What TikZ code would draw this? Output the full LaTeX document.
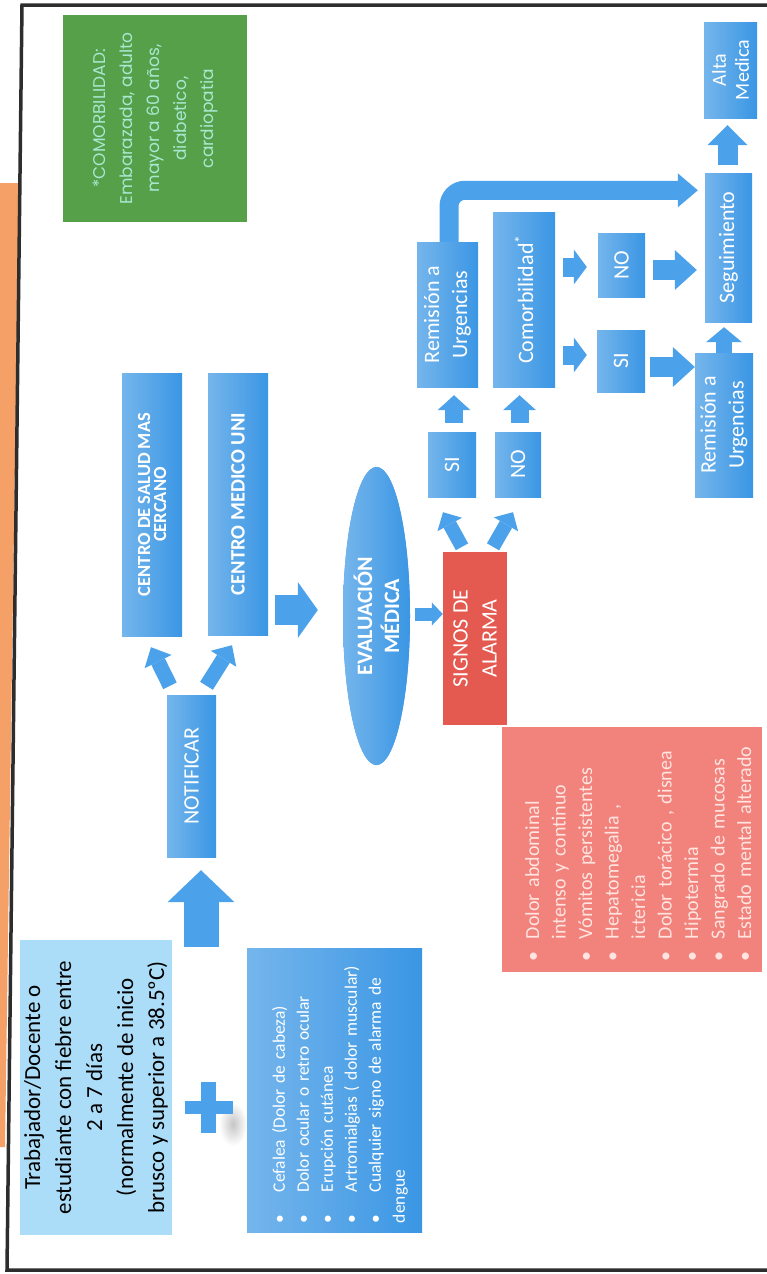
\documentclass[tikz,border=0pt]{standalone}
\usepackage{fontspec}
\setmainfont{Carlito}
\newfontfamily\redonda{Poppins}
\usepackage{tikz}
\usetikzlibrary{calc}
\usetikzlibrary{arrows.meta}
\usetikzlibrary{shapes.geometric}
\definecolor{azul}{RGB}{58,150,228}
\definecolor{flechazul}{RGB}{75,162,235}
\definecolor{celeste}{RGB}{172,221,248}
\definecolor{rojo}{RGB}{228,90,80}
\definecolor{rosa}{RGB}{241,130,124}
\definecolor{rosatexto}{RGB}{255,228,224}
\definecolor{verde}{RGB}{86,160,74}
\definecolor{verdetexto}{RGB}{168,232,208}
\definecolor{naranja}{RGB}{245,160,102}
\definecolor{marcogris}{RGB}{45,45,45}
\tikzset{
    caja/.style={rectangle, fill=azul, text=white, rotate=90, inner sep=0pt, align=center},
    degradado/.style={left color=azul!70!white, right color=azul},
    flecha/.style n args={3}{draw=flechazul, line width=#1, -{Triangle[length=#2, width=#3, line width=0pt]}}
}
\newlength{\sangria}
\newcommand{\punto}[1]{\par\hangindent=\sangria\hangafter=1\noindent\makebox[\sangria][l]{\textbullet}#1}

\begin{document}
\begin{tikzpicture}[x=1pt, y=-1pt]
\useasboundingbox (0,0) rectangle (766,1274);
% marco
\fill[naranja] (0,183) -- (19,183) -- (5,1147) -- (0,1147) -- cycle;
\draw[marcogris, line width=3.5pt] (770,5) -- (22,5) -- (7,1270) -- (770,1270);

% entrada
\node[caja, fill=celeste, text=black, minimum width=295, minimum height=152, font=\fontsize{23}{31}\selectfont] (fiebre) at (96,1087.5) {Trabajador/Docente o\\estudiante con fiebre entre\\2 a 7 días\\(normalmente de inicio\\brusco y superior a 38.5ºC)};
\shade[inner color=gray!45, outer color=white] (233,1124) ellipse (14 and 22);
\fill[flechazul] (185,1101) rectangle (233,1114);
\fill[flechazul] (201,1082) rectangle (216,1133);
\node[caja, degradado, minimum width=284, minimum height=175, text width=266, inner xsep=9, align=left, font=\fontsize{17.5}{24}\selectfont] (sintomas) at (334.5,1090) {\setlength{\sangria}{31pt}%
\punto{Cefalea (Dolor de cabeza)}\punto{Dolor ocular o retro ocular}\punto{Erupción cutánea}\punto{Artromialgias ( dolor muscular)}\punto{Cualquier signo de alarma de\newline dengue}};

% cajas azules
\foreach \nombre/\cx/\cy/\alto/\ancho/\texto in {notif/191.5/776/162/49/NOTIFICAR, remA/447.5/314.5/145/61/{Remisión a\\Urgencias}, comorb/524/299.5/175/62/{Comorbilidad\textsuperscript{*}}, seg/728.5/247.5/149/47/Seguimiento, remB/724/425/144/58/{Remisión a\\Urgencias}, si1/452/464.5/65/48/SI, no1/518/464.5/65/46/NO, no2/621.5/265/64/47/NO, si2/621/361/62/48/SI}{
    \node[caja, degradado, minimum width=\alto, minimum height=\ancho, font=\fontsize{22}{28}\selectfont] (\nombre) at (\cx,\cy) {\texto};
}
\node[caja, degradado, minimum width=263, minimum height=60, font=\bfseries\fontsize{18.5}{16}\selectfont] (csalud) at (152,504.5) {CENTRO DE SALUD MAS\\CERCANO};
\node[caja, degradado, minimum width=262, minimum height=60, font=\bfseries\fontsize{20.5}{24}\selectfont] (cuni) at (238,504) {CENTRO MEDICO UNI};
\node[caja, degradado, minimum width=96, minimum height=53, font=\fontsize{20}{23}\selectfont] (alta) at (730.5,70) {Alta\\Medica};
\node[caja, ellipse, degradado, minimum width=298, minimum height=67, font=\bfseries\fontsize{22}{27}\selectfont] (evaluacion) at (376.5,616) {EVALUACIÓN\\MÉDICA};

% alarma
\node[caja, fill=rojo, minimum width=173, minimum height=64, font=\fontsize{22}{29}\selectfont] (signos) at (475,638.5) {SIGNOS DE\\ALARMA};
\node[caja, fill=rosa, text=rosatexto, minimum width=245, minimum height=260, text width=223, inner xsep=11, align=left, font=\fontsize{20}{26.5}\selectfont] (alarma) at (632,849.5) {\setlength{\sangria}{22pt}%
\punto{Dolor abdominal\newline intenso y continuo}\punto{Vómitos persistentes}\punto{Hepatomegalia ,\newline ictericia}\punto{Dolor torácico , disnea}\punto{Hipotermia}\punto{Sangrado de mucosas}\punto{Estado mental alterado}};

% nota
\node[caja, fill=verde, text=verdetexto, minimum width=207, minimum height=184, font=\redonda\fontsize{17}{27}\selectfont] (nota) at (155,118.5) {*COMORBILIDAD:\\Embarazada, adulto\\mayor a 60 años,\\diabetico,\\cardiopatia};

% flechas
\coordinate (base) at (201,947);
\draw[flecha={35pt}{32pt}{67pt}, shorten >=13pt] (base) -- (base |- notif.west);
\draw[flecha={15pt}{16pt}{30pt}] ($(notif.east)+(-21.5,-9)$) -- ($(csalud.west)+(-1,11)$);
\draw[flecha={15pt}{16pt}{30pt}] ($(notif.east)+(15,-9)$) -- ($(cuni.west)+(-6,10)$);
\draw[flecha={30pt}{20pt}{56pt}] ($(cuni.south |- evaluacion.north)+(7,-6)$) -- ($(evaluacion.north)+(-25,-6)$);
\draw[flecha={13pt}{11pt}{23pt}] ($(evaluacion.south)+(5,-2)$) -- ($(evaluacion.south -| signos.north)+(0,-2)$);
\draw[flecha={14pt}{14pt}{28pt}] ($(signos.east)+(-13,-5)$) -- ($(si1.west)+(-9,15)$);
\draw[flecha={14pt}{14pt}{28pt}] ($(signos.east)+(18,-5)$) -- ($(no1.west)+(-5,15)$);
\draw[flecha={18pt}{15pt}{33pt}] ($(si1.east)+(2,-9)$) -- ($(si1.east |- remA.west)+(2,8)$);
\draw[flecha={18pt}{15pt}{33pt}] ($(no1.east)+(1.5,-9)$) -- ($(no1.east |- comorb.west)+(1.5,8)$);
\draw[flecha={19pt}{20pt}{34pt}, rounded corners=16pt] ($(remA.east)+(1.5,0)$) |- ($(seg.north east)+(-7,17.5)$);
\draw[flecha={19pt}{13pt}{35pt}] ($(comorb.south |- no2.north)+(8,2)$) -- ($(no2.north)+(-11,2)$);
\draw[flecha={19pt}{13pt}{35pt}] ($(comorb.south |- si2.north)+(8,-6)$) -- ($(si2.north)+(-10,-6)$);
\draw[flecha={20pt}{22pt}{40pt}] ($(no2.south)+(8,5)$) -- ($(no2.south -| seg.north)+(-8,5)$);
\draw[flecha={20pt}{22pt}{40pt}] ($(si2.south)+(5,6)$) -- ($(si2.south -| remB.north)+(0,6)$);
\draw[flecha={16pt}{15pt}{36pt}, shorten >=5pt] (remB.east) -- (remB.east |- seg.west);
\draw[flecha={20pt}{20pt}{40pt}] ($(seg.east)+(-1,-8)$) -- ($(seg.east |- alta.west)+(-1,7)$);
\end{tikzpicture}
\end{document}
